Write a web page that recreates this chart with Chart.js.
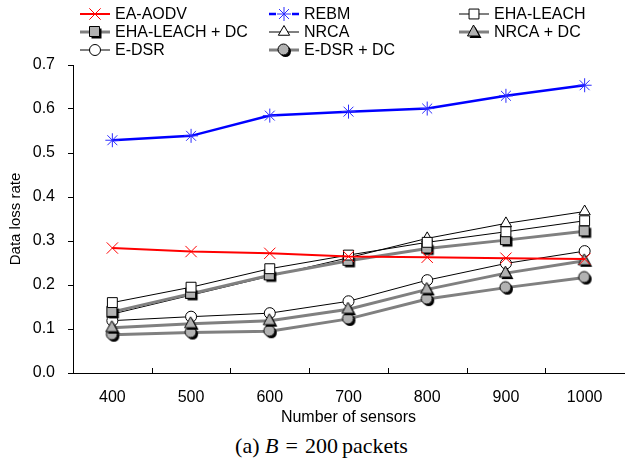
<!DOCTYPE html>
<html>
<head>
<meta charset="utf-8">
<script src="https://cdn.jsdelivr.net/npm/chart.js@4.4.1/dist/chart.umd.min.js"></script>
<style>
  body { margin: 0; background: #fff; }
  #wrap { position: relative; width: 633px; height: 462px; }
  #caption {
    position: absolute; left: 5px; width: 633px; top: 433px;
    text-align: center; font-family: "Liberation Serif", serif; font-size: 22px;
    color: #000;
  }
  #caption .eq { margin: 0 7px; }
  #caption .num { margin-right: 4px; }
</style>
</head>
<body>
<div id="wrap">
  <canvas id="chart" width="633" height="430"></canvas>
  <div id="caption">(a) <i>B</i><span class="eq">=</span><span class="num">200</span>packets</div>
</div>
<script>
// values
const sensors = ['400', '500', '600', '700', '800', '900', '1000'];
const eaAodv = [0.284, 0.276, 0.272, 0.265, 0.263, 0.261, 0.259];
const rebm = [0.529, 0.539, 0.585, 0.594, 0.601, 0.630, 0.654];
const ehaLeach = [0.160, 0.195, 0.237, 0.268, 0.297, 0.321, 0.346];
const ehaLeachDc = [0.139, 0.180, 0.222, 0.255, 0.283, 0.302, 0.322];
const nrca = [0.134, 0.177, 0.220, 0.262, 0.306, 0.340, 0.367];
const nrcaDc = [0.103, 0.112, 0.119, 0.145, 0.190, 0.227, 0.255];
const eDsr = [0.119, 0.128, 0.136, 0.163, 0.211, 0.249, 0.277];
const eDsrDc = [0.087, 0.092, 0.095, 0.123, 0.168, 0.194, 0.217];
const yMin = 0;
const yMax = 0.7;
const yStep = 0.1;

Chart.defaults.font.family = '"Liberation Sans", Arial, sans-serif';
Chart.defaults.font.size = 16;
Chart.defaults.color = '#000';

// gray markers with the little black drop shadow
function grayMarker(shape) {
  let c = document.createElement('canvas');
  c.width = 18;
  c.height = 18;
  let g = c.getContext('2d');
  let path = (cx, cy) => {
    g.beginPath();
    if (shape === 'rect') {
      g.rect(cx - 5, cy - 5, 10, 10);
    } else if (shape === 'circle') {
      g.arc(cx, cy, 5.5, 0, Math.PI * 2);
    } else {
      g.moveTo(cx, cy - 6.5);
      g.lineTo(cx + 6, cy + 4.5);
      g.lineTo(cx - 6, cy + 4.5);
      g.closePath();
    }
  };
  path(10.5, 10.5);
  g.fillStyle = '#000';
  g.fill();
  path(8.5, 8.5);
  g.fillStyle = '#b2b2b2';
  g.fill();
  g.lineWidth = 1;
  g.strokeStyle = '#000';
  g.stroke();
  return c;
}

function series(label, data, color, width, style, radius, fill, pointColor) {
  return {
    label: label,
    data: data,
    borderColor: color,
    borderWidth: width,
    backgroundColor: fill,
    pointStyle: style,
    pointRadius: radius,
    pointHoverRadius: radius,
    pointBackgroundColor: fill,
    pointBorderColor: pointColor,
    pointBorderWidth: 1,
    tension: 0,
    fill: false
  };
}

let datasets = [
  series('EA-AODV', eaAodv, '#ff0000', 2, 'crossRot', 8, '#ff0000', '#ff0000'),
  series('REBM', rebm, '#0000ff', 2.5, 'star', 7, '#0000ff', '#2a2aff'),
  series('EHA-LEACH', ehaLeach, '#000', 1, 'rect', 7, '#fff', '#000'),
  series('EHA-LEACH + DC', ehaLeachDc, '#808080', 3, grayMarker('rect'), 6, '#b2b2b2', '#000'),
  series('NRCA', nrca, '#000', 1, 'triangle', 6.5, '#fff', '#000'),
  series('NRCA + DC', nrcaDc, '#808080', 3, grayMarker('triangle'), 6, '#b2b2b2', '#000'),
  series('E-DSR', eDsr, '#000', 1, 'circle', 5.5, '#fff', '#000'),
  series('E-DSR + DC', eDsrDc, '#808080', 3, grayMarker('circle'), 6, '#b2b2b2', '#000')
];

// three column legend at the top
const legendCols = [80, 269, 459];
const legendRows = [14, 32, 50];

let legendPlugin = {
  id: 'gridLegend',
  afterDraw(chart) {
    let ctx = chart.ctx;
    chart.data.datasets.forEach((ds, i) => {
      let x = legendCols[i % 3];
      let y = legendRows[Math.floor(i / 3)];
      ctx.save();
      ctx.strokeStyle = ds.borderColor;
      ctx.lineWidth = ds.borderWidth;
      ctx.beginPath();
      if (ds.label === 'REBM') {
        ctx.moveTo(x, y); ctx.lineTo(x + 7, y);
        ctx.moveTo(x + 23, y); ctx.lineTo(x + 30, y);
      } else {
        ctx.moveTo(x, y); ctx.lineTo(x + 30, y);
      }
      ctx.stroke();
      ctx.fillStyle = ds.pointBackgroundColor;
      ctx.strokeStyle = ds.pointBorderColor;
      ctx.lineWidth = ds.pointBorderWidth;
      Chart.helpers.drawPoint(ctx, {
        pointStyle: ds.pointStyle,
        radius: ds.pointRadius,
        rotation: 0,
        borderWidth: ds.pointBorderWidth
      }, x + 15, y);
      ctx.fillStyle = '#000';
      ctx.font = '16px "Liberation Sans", Arial, sans-serif';
      ctx.textBaseline = 'middle';
      ctx.fillText(ds.label, x + 35, y + 1);
      ctx.restore();
    });
  }
};

// small tick marks pointing up into the plot, between categories
let innerTicks = {
  id: 'innerTicks',
  afterDraw(chart) {
    let ctx = chart.ctx;
    let x = chart.scales.x;
    let bottom = chart.chartArea.bottom;
    ctx.save();
    ctx.strokeStyle = '#000';
    ctx.lineWidth = 1;
    ctx.beginPath();
    for (let i = 1; i < sensors.length; i++) {
      let px = Math.round((x.getPixelForValue(i - 1) + x.getPixelForValue(i)) / 2) + 0.5;
      ctx.moveTo(px, bottom);
      ctx.lineTo(px, bottom - 5);
    }
    ctx.stroke();
    ctx.restore();
  }
};

new Chart(document.getElementById('chart'), {
  type: 'line',
  data: { labels: sensors, datasets: datasets },
  options: {
    responsive: false,
    animation: false,
    layout: { padding: { top: 65, left: 0, right: 0, bottom: 0 } },
    plugins: {
      legend: { display: false },
      tooltip: { enabled: false }
    },
    scales: {
      x: {
        offset: true,
        grid: { display: true, drawOnChartArea: false, drawTicks: false, offset: true },
        border: { display: true, color: '#000', width: 1 },
        ticks: { padding: 15, font: { size: 16 } },
        title: { display: true, text: 'Number of sensors', font: { size: 16 }, padding: { top: 0, bottom: 3 } },
        afterFit(scale) { scale.height = 57; }
      },
      y: {
        min: yMin,
        max: yMax,
        grid: { drawOnChartArea: false, drawTicks: true, tickLength: 5, color: '#000' },
        border: { display: true, color: '#000', width: 1 },
        ticks: {
          stepSize: yStep,
          padding: 13,
          font: { size: 16 },
          callback: v => v.toFixed(1)
        },
        title: { display: true, text: 'Data loss rate', font: { size: 15 }, padding: { top: 7, bottom: 0 } },
        afterFit(scale) { scale.width = 73; }
      }
    }
  },
  plugins: [legendPlugin, innerTicks]
});
</script>
</body>
</html>
